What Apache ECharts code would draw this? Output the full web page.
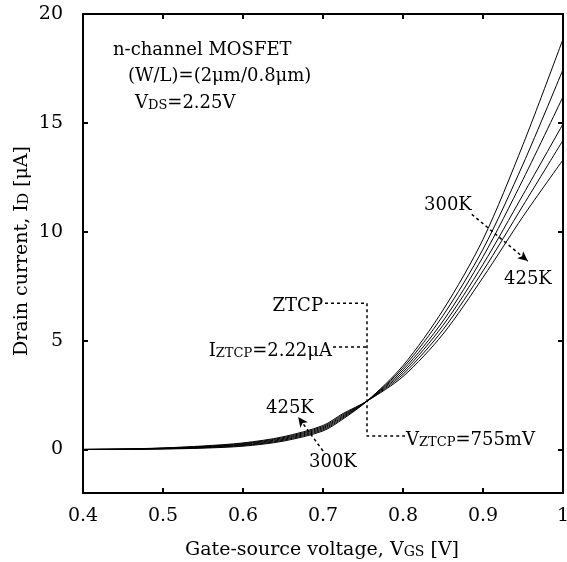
<!DOCTYPE html>
<html>
<head>
<meta charset="utf-8">
<script src="https://cdn.jsdelivr.net/npm/echarts@6/dist/echarts.min.js"></script>
<style>
  html, body { margin: 0; padding: 0; background: #fff; }
  #chart { width: 567px; height: 562px; }
</style>
</head>
<body>
<div id="chart"></div>
<script>
// gate-source voltage samples [V]
var vgs = [0.4, 0.45, 0.5, 0.55, 0.6, 0.65, 0.7, 0.725, 0.755, 0.8, 0.85, 0.9, 0.95, 1.0];
// drain current [uA]
var id300 = [0, 0.005, 0.02, 0.06, 0.15, 0.38, 0.85, 1.40, 2.22, 3.85, 6.40, 9.65, 14.0, 18.85];
var id325 = [0, 0.007, 0.03, 0.08, 0.18, 0.42, 0.90, 1.45, 2.22, 3.75, 6.15, 9.20, 13.1, 17.45];
var id350 = [0, 0.010, 0.04, 0.10, 0.21, 0.46, 0.95, 1.50, 2.22, 3.65, 5.90, 8.85, 12.4, 16.2];
var id375 = [0, 0.013, 0.05, 0.12, 0.24, 0.50, 1.00, 1.55, 2.22, 3.55, 5.70, 8.50, 11.7, 14.95];
var id400 = [0, 0.016, 0.06, 0.14, 0.27, 0.54, 1.05, 1.60, 2.22, 3.45, 5.50, 8.20, 11.2, 14.2];
var id425 = [0, 0.020, 0.07, 0.16, 0.30, 0.58, 1.10, 1.65, 2.22, 3.35, 5.30, 7.90, 10.7, 13.3];

var xTicks = [0.4, 0.5, 0.6, 0.7, 0.8, 0.9, 1.0];
var yTicks = [0, 5, 10, 15, 20];

// zero temperature coefficient point guide lines
var ztcpGuide = [[0.7025, 6.72], [0.755, 6.72], [0.755, 0.62], [0.8025, 0.62]];
var iztcpGuide = [[0.7125, 4.7], [0.755, 4.7]];
var arrowHigh = [[0.886, 10.8], [0.956, 8.65]];
var arrowLow = [[0.7, -0.07], [0.669, 1.49]];

var FONT = 'DejaVu Serif';

var chart = echarts.init(document.getElementById('chart'));

var pairs = function (ys) {
    var out = [];
    for (var i = 0; i < vgs.length; i++) {
        out.push([vgs[i], ys[i]]);
    }
    return out;
};

var curve = function (name, ys) {
    return {
        name: name,
        type: 'line',
        data: pairs(ys),
        smooth: 0.3,
        symbol: 'none',
        lineStyle: {color: '#000', width: 1},
        silent: true
    };
};

var richText = {
    n: {fontFamily: FONT, fontSize: 18, color: '#000', lineHeight: 22, verticalAlign: 'bottom'},
    s: {fontFamily: FONT, fontSize: 13, color: '#000', lineHeight: 19, verticalAlign: 'bottom'},
    a: {fontFamily: FONT, fontSize: 19, color: '#000', lineHeight: 23, verticalAlign: 'bottom'},
    b: {fontFamily: FONT, fontSize: 14, color: '#000', lineHeight: 20, verticalAlign: 'bottom'}
};

var txt = function (x, y, text, align, rotation) {
    return {
        type: 'text',
        x: x,
        y: y,
        rotation: rotation || 0,
        style: {
            text: text,
            rich: richText,
            font: '18px ' + FONT,
            fill: '#000',
            align: align || 'left',
            verticalAlign: 'middle'
        }
    };
};

var tickAxis = function (pos, ticks, showLabel, min, max) {
    return {
        type: 'value',
        position: pos,
        min: min,
        max: max,
        splitLine: {show: false},
        axisLine: {show: true, onZero: false, lineStyle: {color: '#000', width: 2}},
        axisTick: {show: true, inside: true, length: 5, customValues: ticks, lineStyle: {color: '#000', width: 2}},
        axisLabel: {
            show: showLabel,
            customValues: ticks,
            color: '#000',
            fontFamily: FONT,
            fontSize: 19
        }
    };
};

var xBottom = tickAxis('bottom', xTicks, true, 0.4, 1.0);
xBottom.axisLabel.margin = 14;
var xTop = tickAxis('top', xTicks, false, 0.4, 1.0);
var yLeft = tickAxis('left', yTicks, true, -2, 20);
yLeft.axisLabel.margin = 20;
var yRight = tickAxis('right', yTicks, false, -2, 20);

var option = {
    animation: false,
    backgroundColor: '#fff',
    grid: {left: 83, right: 4, top: 14, bottom: 69, outerBoundsMode: 'none'},
    xAxis: [xBottom, xTop],
    yAxis: [yLeft, yRight],
    series: [
        curve('300K', id300),
        curve('325K', id325),
        curve('350K', id350),
        curve('375K', id375),
        curve('400K', id400),
        curve('425K', id425),
        {
            type: 'line',
            data: ztcpGuide,
            symbol: 'none',
            lineStyle: {color: '#000', width: 1.5, type: [3, 3]},
            silent: true
        },
        {
            type: 'line',
            data: iztcpGuide,
            symbol: 'none',
            lineStyle: {color: '#000', width: 1.5, type: [3, 3]},
            silent: true,
            markLine: {
                silent: true,
                symbol: ['none', 'arrow'],
                symbolSize: [7, 10],
                label: {show: false},
                lineStyle: {color: '#000', width: 1.5, type: [3, 3]},
                data: [
                    [{coord: arrowHigh[0]}, {coord: arrowHigh[1]}],
                    [{coord: arrowLow[0]}, {coord: arrowLow[1]}]
                ]
            }
        }
    ],
    graphic: [
        txt(113, 48, '{n|n-channel MOSFET}'),
        txt(128, 74, '{n|(W/L)=(2\u03bcm/0.8\u03bcm)}'),
        txt(135, 101, '{n|V}{s|DS}{n|=2.25V}'),
        txt(424, 203, '{n|300K}'),
        txt(504, 277, '{n|425K}'),
        txt(323, 304, '{n|ZTCP}', 'right'),
        txt(332, 349, '{n|I}{s|ZTCP}{n|=2.22\u03bcA}', 'right'),
        txt(266, 406, '{n|425K}'),
        txt(309, 460, '{n|300K}'),
        txt(406, 438, '{n|V}{s|ZTCP}{n|=755mV}'),
        txt(322, 548, '{a|Gate-source voltage, V}{b|GS}{a| [V]}', 'center'),
        txt(20, 251, '{a|Drain current, I}{b|D}{a| [\u03bcA]}', 'center', Math.PI / 2)
    ]
};

chart.setOption(option);
</script>
</body>
</html>
